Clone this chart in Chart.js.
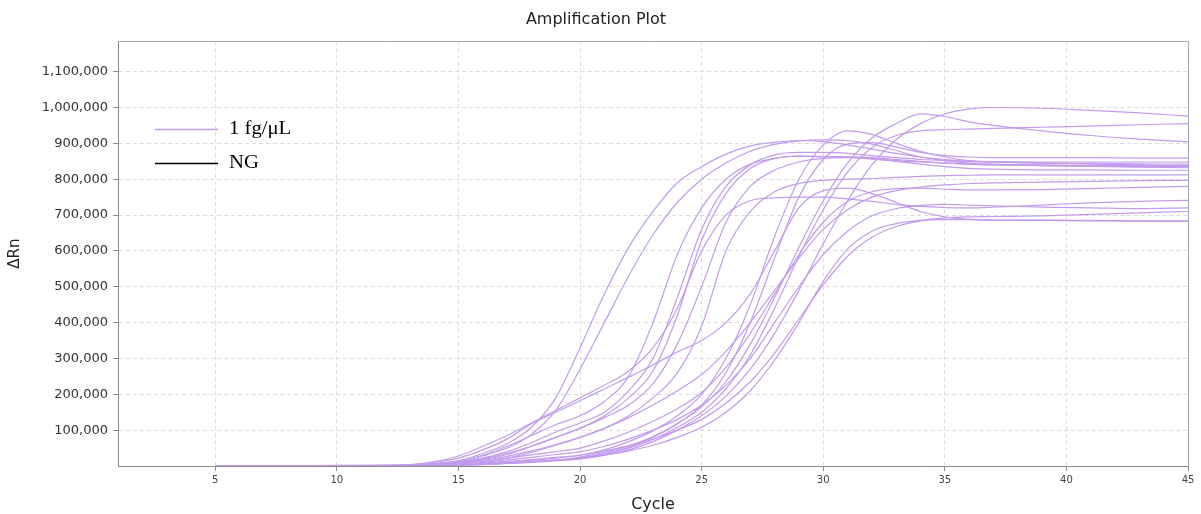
<!DOCTYPE html>
<html>
<head>
<meta charset="utf-8">
<title>Amplification Plot</title>
<script src="https://cdn.jsdelivr.net/npm/chart.js@4.4.1/dist/chart.umd.min.js"></script>
<style>
  html, body { margin: 0; padding: 0; background: #fff; }
</style>
</head>
<body>
<canvas id="amp" width="1201" height="514"></canvas>
<script>
// cycle numbers the readings were taken at (x values)
const cycles = [5, 8, 11, 13, 14, 15, 16, 17, 18, 19, 20, 21, 22, 23, 24, 25, 26, 27, 28, 29, 30,
    31, 32, 33, 34, 35, 36, 37, 39, 41, 43, 45];

// dRn per well, in thousands
const well01 = [0, 0, 1, 3, 7, 15, 35, 62, 108, 190, 330, 480, 610, 710, 790, 835, 870, 893, 903, 908, 905, 896, 884, 872, 862, 855, 850, 848, 845, 844, 843, 842];
const well02 = [0, 0, 1, 2, 5, 12, 28, 50, 88, 155, 270, 400, 530, 645, 735, 800, 845, 878, 897, 907, 910, 908, 898, 880, 862, 852, 845, 842, 838, 836, 835, 835];
const well03 = [0, 1, 2, 4, 12, 28, 55, 85, 120, 155, 190, 225, 265, 330, 440, 600, 700, 740, 748, 750, 750, 745, 738, 730, 724, 721, 720, 722, 728, 734, 738, 741];
const well04 = [0, 1, 2, 3, 10, 22, 45, 75, 118, 150, 182, 215, 248, 282, 318, 350, 400, 480, 600, 720, 768, 775, 760, 735, 710, 695, 688, 686, 686, 685, 684, 684];
const well05 = [0, 0, 1, 2, 6, 14, 30, 55, 85, 115, 140, 180, 250, 400, 590, 720, 800, 842, 858, 865, 862, 862, 858, 852, 848, 845, 842, 840, 838, 836, 834, 832];
const well06 = [0, 0, 1, 2, 5, 11, 22, 40, 65, 95, 120, 150, 210, 300, 470, 660, 780, 840, 868, 875, 875, 872, 866, 860, 855, 852, 850, 849, 848, 848, 848, 848];
const well07 = [0, 0, 0, 1, 4, 9, 18, 32, 55, 80, 105, 140, 190, 265, 420, 630, 760, 830, 858, 864, 864, 862, 860, 855, 850, 845, 842, 840, 840, 838, 838, 838];
const well08 = [0, 0, 1, 2, 5, 10, 20, 35, 55, 80, 105, 135, 170, 230, 340, 500, 680, 780, 825, 848, 858, 860, 856, 850, 842, 835, 830, 828, 826, 826, 825, 825];
const well09 = [0, 0, 0, 1, 3, 6, 12, 22, 38, 58, 80, 105, 140, 190, 260, 390, 600, 710, 765, 788, 797, 800, 802, 805, 808, 810, 811, 812, 812, 812, 812, 812];
const well10 = [0, 0, 0, 1, 2, 4, 7, 11, 16, 22, 30, 45, 68, 98, 140, 200, 300, 450, 640, 800, 895, 935, 925, 900, 878, 862, 852, 848, 845, 842, 840, 838];
const well11 = [0, 0, 0, 0, 1, 3, 5, 8, 12, 16, 22, 34, 52, 80, 118, 170, 260, 400, 580, 750, 855, 898, 902, 890, 875, 866, 862, 860, 860, 860, 859, 859];
const well12 = [0, 0, 0, 0, 1, 2, 4, 7, 10, 14, 20, 30, 45, 68, 100, 140, 195, 270, 370, 490, 620, 740, 840, 910, 955, 982, 996, 1000, 998, 992, 985, 976];
const well13 = [0, 0, 0, 0, 1, 3, 5, 8, 12, 17, 25, 38, 56, 82, 118, 165, 235, 340, 470, 610, 740, 845, 915, 955, 982, 975, 960, 950, 935, 922, 912, 905];
const well14 = [0, 0, 0, 0, 1, 2, 4, 7, 11, 16, 22, 33, 50, 74, 108, 150, 215, 310, 440, 585, 715, 820, 888, 922, 935, 938, 940, 942, 945, 948, 952, 955];
const well15 = [0, 0, 1, 2, 4, 8, 16, 27, 42, 60, 80, 105, 135, 170, 210, 255, 320, 400, 490, 580, 660, 715, 750, 768, 778, 784, 788, 790, 792, 794, 796, 797];
const well16 = [0, 0, 0, 1, 3, 7, 13, 22, 31, 40, 50, 70, 95, 125, 160, 205, 275, 370, 480, 590, 680, 738, 765, 774, 775, 772, 770, 770, 771, 774, 777, 780];
const well17 = [0, 0, 0, 1, 2, 5, 10, 17, 24, 32, 40, 55, 75, 100, 130, 170, 225, 300, 400, 500, 590, 655, 698, 718, 727, 730, 728, 726, 722, 720, 718, 720];
const well18 = [0, 0, 0, 0, 1, 4, 8, 13, 18, 24, 30, 42, 57, 75, 100, 130, 175, 235, 315, 410, 505, 585, 638, 668, 684, 692, 695, 696, 698, 702, 706, 710];
const well19 = [0, 0, 0, 0, 1, 3, 5, 8, 12, 16, 20, 30, 42, 58, 80, 108, 150, 210, 295, 400, 515, 605, 655, 676, 685, 687, 687, 686, 685, 684, 683, 682];
// negative control: nothing visible on the plot
const ngWell = [];

const xTicks = [5, 10, 15, 20, 25, 30, 35, 40, 45];
const yTicks = [100000, 200000, 300000, 400000, 500000, 600000, 700000, 800000, 900000, 1000000, 1100000];

const sampleWells = [well01, well02, well03, well04, well05, well06, well07, well08, well09, well10,
    well11, well12, well13, well14, well15, well16, well17, well18, well19];

const SAMPLE_COLOR = 'rgb(194, 155, 236)';
const FONT = '"DejaVu Sans", Verdana, sans-serif';

function toPoints(vals) {
    return vals.map((v, i) => ({ x: cycles[i], y: v * 1000 }));
}

const datasets = sampleWells.map((w, i) => ({
    label: i === 0 ? '1 fg/\u03bcL' : '',
    data: toPoints(w),
    borderColor: SAMPLE_COLOR,
    borderWidth: 1.2,
    pointRadius: 0,
    cubicInterpolationMode: 'monotone',
    fill: false
}));
datasets.push({
    label: 'NG',
    data: toPoints(ngWell),
    borderColor: '#000000',
    borderWidth: 1.2,
    pointRadius: 0,
    fill: false
});

// legend drawn inside the plot, top left, like the instrument software does
const insideLegend = {
    id: 'insideLegend',
    afterDraw: function (chart) {
        const ctx = chart.ctx;
        const area = chart.chartArea;
        const items = chart.data.datasets.filter(d => d.label);
        ctx.save();
        ctx.font = '18px "Liberation Serif", "Times New Roman", serif';
        ctx.textBaseline = 'middle';
        ctx.textAlign = 'left';
        items.forEach((d, i) => {
            const x = area.left + 37;
            const y = Math.round(area.top + 88 + i * 34) + 0.5;
            ctx.strokeStyle = d.borderColor;
            ctx.lineWidth = 1.3;
            ctx.beginPath();
            ctx.moveTo(x, y);
            ctx.lineTo(x + 63, y);
            ctx.stroke();
            ctx.save();
            ctx.translate(x + 74, y);
            ctx.scale(1.15, 1);  // the source text is a little wide
            ctx.fillStyle = '#000';
            ctx.fillText(d.label, 0, 0);
            ctx.restore();
        });
        ctx.restore();
    }
};

// top and right edge of the plot frame
const plotFrame = {
    id: 'plotFrame',
    beforeDatasetsDraw: function (chart) {
        const ctx = chart.ctx;
        const a = chart.chartArea;
        ctx.save();
        ctx.strokeStyle = '#a8a8a8';
        ctx.lineWidth = 1;
        ctx.beginPath();
        ctx.moveTo(a.left, Math.round(a.top) + 0.5);
        ctx.lineTo(Math.round(a.right) + 0.5, Math.round(a.top) + 0.5);
        ctx.lineTo(Math.round(a.right) + 0.5, a.bottom);
        ctx.stroke();
        ctx.restore();
    }
};

const gridOpts = { color: '#dcdcdc', lineWidth: 1, tickLength: 5, tickColor: '#8c8c8c', drawTicks: true };
const borderOpts = { color: '#8c8c8c', width: 1, dash: [4, 3] };

new Chart(document.getElementById('amp'), {
    type: 'line',
    data: { datasets: datasets },
    options: {
        responsive: false,
        animation: false,
        devicePixelRatio: 1,
        layout: { padding: { left: 4, right: 13, top: 0, bottom: 0 } },
        plugins: {
            legend: { display: false },
            tooltip: { enabled: false },
            title: {
                display: true,
                text: 'Amplification Plot',
                color: '#222',
                font: { family: FONT, size: 16, weight: 'normal' },
                padding: { top: 10, bottom: 12 }
            }
        },
        scales: {
            x: {
                type: 'linear',
                min: 1,
                max: 45,
                afterBuildTicks: s => { s.ticks = xTicks.map(v => ({ value: v })); },
                afterFit: s => { s.height = 48; },
                ticks: { autoSkip: false, maxRotation: 0, padding: 3, color: '#444', font: { family: FONT, size: 10 } },
                grid: gridOpts,
                border: borderOpts,
                title: { display: true, text: 'Cycle', color: '#222', font: { family: FONT, size: 16 }, padding: { top: 0, bottom: 0 } }
            },
            y: {
                type: 'linear',
                min: 0,
                max: 1185000,
                afterBuildTicks: s => { s.ticks = yTicks.map(v => ({ value: v })); },
                afterFit: s => { s.width = 114; },
                ticks: {
                    autoSkip: false,
                    padding: 5,
                    color: '#333',
                    font: { family: FONT, size: 13 },
                    callback: v => v.toLocaleString('en-US')
                },
                grid: gridOpts,
                border: borderOpts,
                title: { display: true, text: '\u0394Rn', color: '#222', font: { family: FONT, size: 15 }, padding: { top: 2, bottom: 0 } }
            }
        }
    },
    plugins: [plotFrame, insideLegend]
});
</script>
</body>
</html>
